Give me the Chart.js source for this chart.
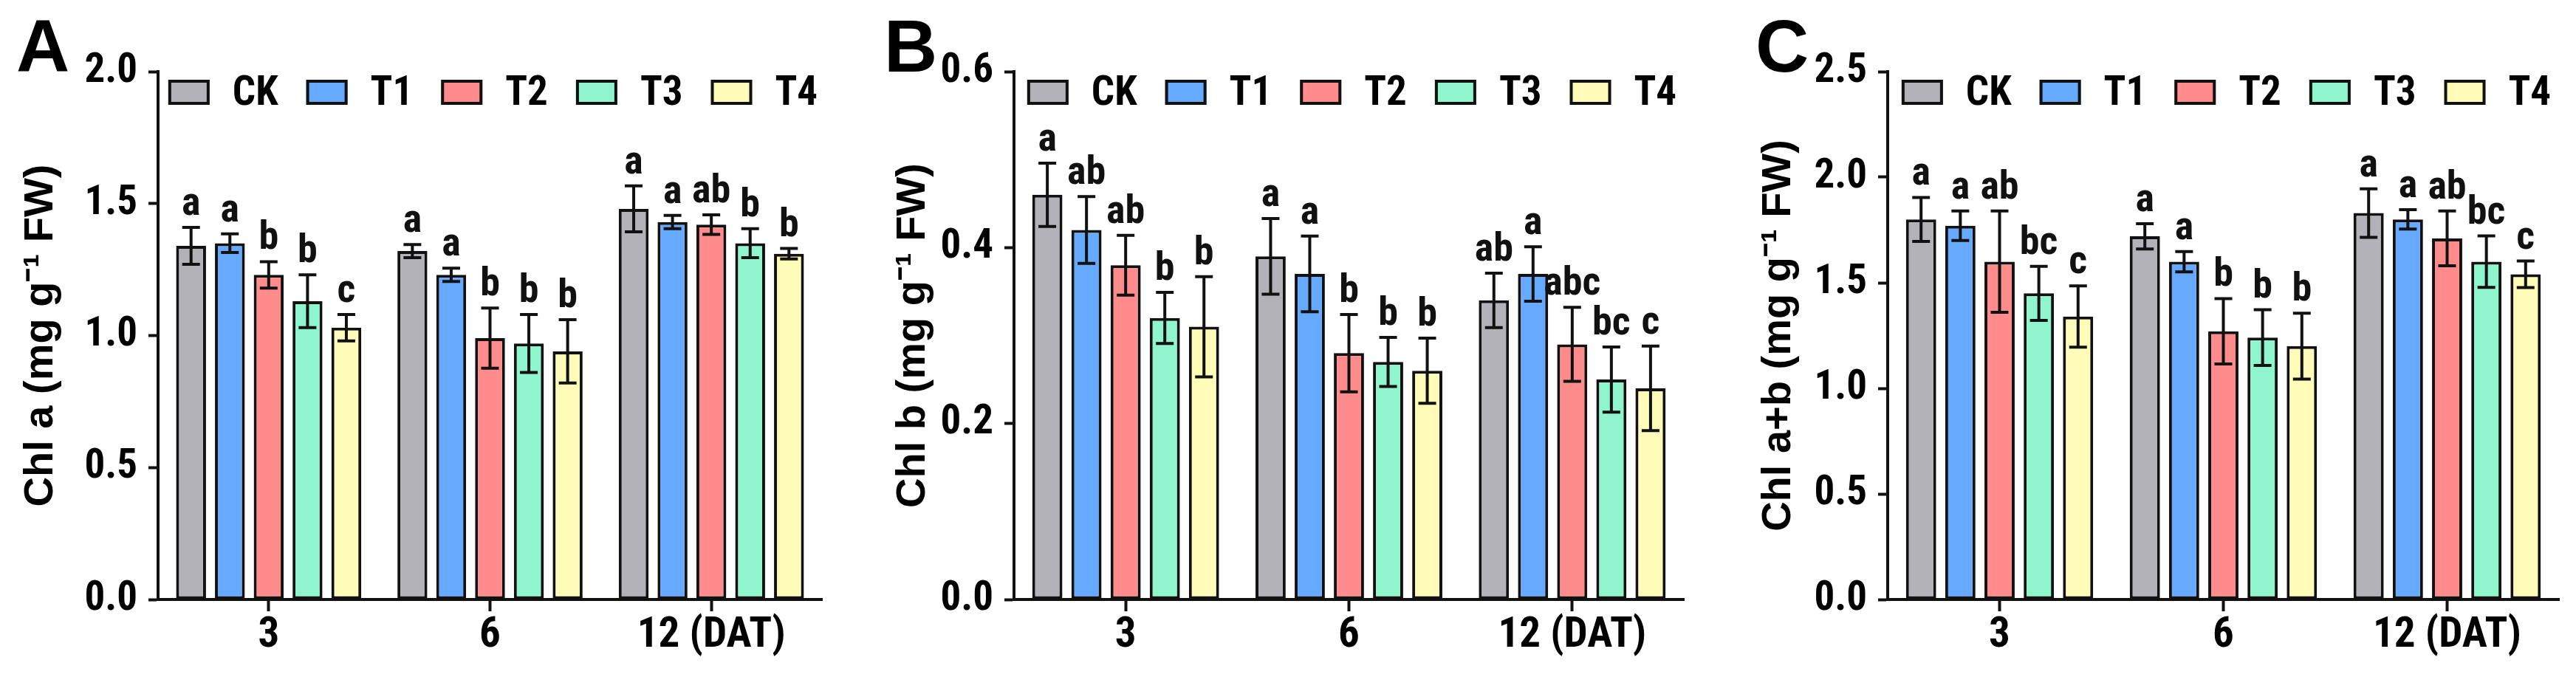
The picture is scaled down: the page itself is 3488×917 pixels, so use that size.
<!DOCTYPE html>
<html>
<head>
<meta charset="utf-8">
<script src="https://cdn.jsdelivr.net/npm/chart.js@4.4.1/dist/chart.umd.min.js"></script>
<style>
  html, body { margin: 0; padding: 0; background: #ffffff; }
  body { width: 3488px; height: 917px; position: relative; overflow: hidden; }
  canvas { position: absolute; top: 0; }
</style>
</head>
<body>
<canvas id="cA" width="1162" height="917" style="left:0px;width:1162px;height:917px"></canvas>
<canvas id="cB" width="1170" height="917" style="left:1162px;width:1170px;height:917px"></canvas>
<canvas id="cC" width="1156" height="917" style="left:2332px;width:1156px;height:917px"></canvas>
<script>
// ---------------- DATA ----------------
const categories = ['3', '6', '12 (DAT)'];
const treatments = ['CK', 'T1', 'T2', 'T3', 'T4'];
const colors = ['#b2b2b8', '#66aaff', '#ff8c8c', '#8ef5cf', '#fffcba'];

// Panel A: Chl a (mg g-1 FW)
const chlA_CK = [1.34, 1.32, 1.48];
const chlA_T1 = [1.35, 1.23, 1.43];
const chlA_T2 = [1.23, 0.99, 1.42];
const chlA_T3 = [1.13, 0.97, 1.35];
const chlA_T4 = [1.03, 0.94, 1.31];
const chlA_CK_sd = [0.07, 0.025, 0.087];
const chlA_T1_sd = [0.035, 0.025, 0.025];
const chlA_T2_sd = [0.05, 0.114, 0.037];
const chlA_T3_sd = [0.10, 0.11, 0.055];
const chlA_T4_sd = [0.05, 0.12, 0.02];
const chlA_CK_sig = ['a', 'a', 'a'];
const chlA_T1_sig = ['a', 'a', 'a'];
const chlA_T2_sig = ['b', 'b', 'ab'];
const chlA_T3_sig = ['b', 'b', 'b'];
const chlA_T4_sig = ['c', 'b', 'b'];
const chlA_ticks = [0.0, 0.5, 1.0, 1.5, 2.0];

// Panel B: Chl b (mg g-1 FW)
const chlB_CK = [0.46, 0.39, 0.34];
const chlB_T1 = [0.42, 0.37, 0.37];
const chlB_T2 = [0.38, 0.28, 0.29];
const chlB_T3 = [0.32, 0.27, 0.25];
const chlB_T4 = [0.31, 0.26, 0.24];
const chlB_CK_sd = [0.036, 0.043, 0.031];
const chlB_T1_sd = [0.038, 0.043, 0.031];
const chlB_T2_sd = [0.034, 0.044, 0.042];
const chlB_T3_sd = [0.029, 0.028, 0.037];
const chlB_T4_sd = [0.057, 0.037, 0.048];
const chlB_CK_sig = ['a', 'a', 'ab'];
const chlB_T1_sig = ['ab', 'a', 'a'];
const chlB_T2_sig = ['ab', 'b', 'abc'];
const chlB_T3_sig = ['b', 'b', 'bc'];
const chlB_T4_sig = ['b', 'b', 'c'];
const chlB_ticks = [0.0, 0.2, 0.4, 0.6];

// Panel C: Chl a+b (mg g-1 FW)
const chlAB_CK = [1.80, 1.72, 1.83];
const chlAB_T1 = [1.77, 1.60, 1.80];
const chlAB_T2 = [1.60, 1.27, 1.71];
const chlAB_T3 = [1.45, 1.24, 1.60];
const chlAB_T4 = [1.34, 1.20, 1.54];
const chlAB_CK_sd = [0.104, 0.06, 0.115];
const chlAB_T1_sd = [0.07, 0.048, 0.046];
const chlAB_T2_sd = [0.24, 0.155, 0.13];
const chlAB_T3_sd = [0.128, 0.132, 0.122];
const chlAB_T4_sd = [0.145, 0.156, 0.063];
const chlAB_CK_sig = ['a', 'a', 'a'];
const chlAB_T1_sig = ['a', 'a', 'a'];
const chlAB_T2_sig = ['ab', 'b', 'ab'];
const chlAB_T3_sig = ['bc', 'b', 'bc'];
const chlAB_T4_sig = ['c', 'b', 'c'];
const chlAB_ticks = [0.0, 0.5, 1.0, 1.5, 2.0, 2.5];

// ---------------- STYLE ----------------
const NARROW = "'Roboto Condensed', 'Open Sans Condensed', 'DejaVu Sans Condensed', sans-serif";
const SANS = "'Liberation Sans', Arial, sans-serif";
const INK = '#111111';

const panels = [
  { id: 'cA', letter: 'A', title: 'Chl a (mg g\u207B\u00B9 FW)', ticks: chlA_ticks,
    means: [chlA_CK, chlA_T1, chlA_T2, chlA_T3, chlA_T4],
    sds: [chlA_CK_sd, chlA_T1_sd, chlA_T2_sd, chlA_T3_sd, chlA_T4_sd],
    sigs: [chlA_CK_sig, chlA_T1_sig, chlA_T2_sig, chlA_T3_sig, chlA_T4_sig],
    yWidth: 214, rightPad: 49, titlePad: 22, letterX: 22 },
  { id: 'cB', letter: 'B', title: 'Chl b (mg g\u207B\u00B9 FW)', ticks: chlB_ticks,
    means: [chlB_CK, chlB_T1, chlB_T2, chlB_T3, chlB_T4],
    sds: [chlB_CK_sd, chlB_T1_sd, chlB_T2_sd, chlB_T3_sd, chlB_T4_sd],
    sigs: [chlB_CK_sig, chlB_T1_sig, chlB_T2_sig, chlB_T3_sig, chlB_T4_sig],
    yWidth: 211, rightPad: 52, titlePad: 41, letterX: 35 },
  { id: 'cC', letter: 'C', title: 'Chl a+b (mg g\u207B\u00B9 FW)', ticks: chlAB_ticks,
    means: [chlAB_CK, chlAB_T1, chlAB_T2, chlAB_T3, chlAB_T4],
    sds: [chlAB_CK_sd, chlAB_T1_sd, chlAB_T2_sd, chlAB_T3_sd, chlAB_T4_sd],
    sigs: [chlAB_CK_sig, chlAB_T1_sig, chlAB_T2_sig, chlAB_T3_sig, chlAB_T4_sig],
    yWidth: 224, rightPad: 23, titlePad: 43, letterX: 45 }
];

// error bars + significance letters
const errorBarPlugin = {
  id: 'errorBars',
  afterDatasetsDraw(chart) {
    const ctx = chart.ctx;
    const y = chart.scales.y;
    chart.data.datasets.forEach((ds, di) => {
      const meta = chart.getDatasetMeta(di);
      meta.data.forEach((bar, i) => {
        const m = ds.data[i], e = ds.errors[i];
        const yTop = y.getPixelForValue(m + e);
        const yBot = y.getPixelForValue(m - e);
        const x = bar.x;
        ctx.save();
        ctx.strokeStyle = INK;
        ctx.lineWidth = 4;
        ctx.beginPath();
        ctx.moveTo(x, yTop); ctx.lineTo(x, yBot);
        ctx.moveTo(x - 12, yTop); ctx.lineTo(x + 12, yTop);
        ctx.moveTo(x - 12, yBot); ctx.lineTo(x + 12, yBot);
        ctx.stroke();
        ctx.fillStyle = INK;
        ctx.font = 'bold 54px ' + NARROW;
        ctx.textAlign = 'center';
        ctx.textBaseline = 'alphabetic';
        ctx.fillText(ds.sig[i], x, yTop - 17);
        ctx.restore();
      });
    });
  }
};

// legend inside plot + panel letter
const decorPlugin = {
  id: 'decor',
  afterDraw(chart) {
    const ctx = chart.ctx;
    const area = chart.chartArea;
    const opts = chart.options.plugins.decor;
    ctx.save();
    // panel letter
    ctx.fillStyle = '#000';
    ctx.font = 'bold 100px ' + SANS;
    ctx.textAlign = 'left';
    ctx.textBaseline = 'alphabetic';
    ctx.fillText(opts.letter, opts.letterX, 97);
    // legend
    ctx.font = 'bold 55px ' + NARROW;
    const boxW = 56, boxH = 34, gapBT = 31, gapItem = 38;
    const widths = chart.data.datasets.map(ds => ctx.measureText(ds.label).width);
    let total = 0;
    widths.forEach((w, i) => { total += boxW + gapBT + w + (i < widths.length - 1 ? gapItem : 0); });
    let x = (area.left + area.right) / 2 - total / 2 + 4;
    const boxTop = 108;
    chart.data.datasets.forEach((ds, i) => {
      ctx.fillStyle = ds.backgroundColor;
      ctx.fillRect(x, boxTop, boxW, boxH);
      ctx.strokeStyle = INK;
      ctx.lineWidth = 4;
      ctx.strokeRect(x + 2, boxTop + 2, boxW - 4, boxH - 4);
      ctx.fillStyle = '#000';
      ctx.textAlign = 'left';
      ctx.textBaseline = 'alphabetic';
      ctx.fillText(ds.label, x + boxW + gapBT, 142);
      x += boxW + gapBT + widths[i] + gapItem;
    });
    ctx.restore();
  }
};

panels.forEach(p => {
  const ctx = document.getElementById(p.id).getContext('2d');
  const yMax = p.ticks[p.ticks.length - 1];
  const yStep = p.ticks[1] - p.ticks[0];
  new Chart(ctx, {
    type: 'bar',
    data: {
      labels: categories,
      datasets: treatments.map((name, i) => ({
        label: name,
        data: p.means[i],
        errors: p.sds[i],
        sig: p.sigs[i],
        backgroundColor: colors[i],
        borderColor: INK,
        borderWidth: 4,
        borderSkipped: false,
        categoryPercentage: 0.877,
        barPercentage: 0.77
      }))
    },
    options: {
      responsive: false,
      animation: false,
      devicePixelRatio: 1,
      layout: { padding: { left: 0, right: p.rightPad, top: 97, bottom: 0 } },
      plugins: {
        legend: { display: false },
        tooltip: { enabled: false },
        decor: { letter: p.letter, letterX: p.letterX }
      },
      scales: {
        x: {
          grid: { display: true, drawOnChartArea: false, drawTicks: true, offset: false,
                  tickLength: 16, tickWidth: 4, tickColor: INK },
          border: { display: true, color: INK, width: 4 },
          ticks: { color: '#000', font: { family: NARROW, size: 57, weight: 'bold' }, padding: 0,
                   maxRotation: 0, autoSkip: false },
          afterFit(scale) { scale.height = 105; }
        },
        y: {
          min: 0, max: yMax,
          grid: { display: true, drawOnChartArea: false, drawTicks: true,
                  tickLength: 13, tickWidth: 4, tickColor: INK },
          border: { display: true, color: INK, width: 4 },
          ticks: { stepSize: yStep, color: '#000', padding: 15,
                   font: { family: NARROW, size: 55, weight: 'bold' },
                   callback: v => Number(v).toFixed(1) },
          title: { display: true, text: p.title, color: '#000',
                   font: { family: SANS, size: 56, weight: 'bold' },
                   padding: { top: p.titlePad, bottom: 0 } },
          afterFit(scale) { scale.width = p.yWidth; }
        }
      }
    },
    plugins: [errorBarPlugin, decorPlugin]
  });
});
</script>
</body>
</html>
